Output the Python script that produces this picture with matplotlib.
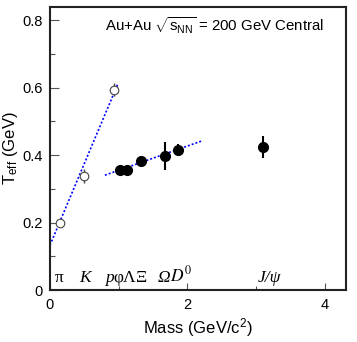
import numpy as np
import matplotlib
matplotlib.use('Agg')
import matplotlib.pyplot as plt
from matplotlib.ticker import MultipleLocator

plt.rcParams['font.family'] = ['Liberation Sans', 'DejaVu Sans']
plt.rcParams['mathtext.fontset'] = 'custom'
plt.rcParams['mathtext.rm'] = 'Liberation Sans'
plt.rcParams['mathtext.it'] = 'Liberation Sans:italic'
plt.rcParams['mathtext.sf'] = 'Liberation Sans'

# data: pi, K, p (open) and phi, Lambda, Xi, Omega, D0, J/psi (filled)
mass_open = [0.140, 0.494, 0.938]
teff_open = [0.198, 0.338, 0.594]
err_open = [0.008, 0.022, 0.019]

mass_fill = [1.019, 1.116, 1.321, 1.672, 1.865, 3.097]
teff_fill = [0.357, 0.357, 0.383, 0.397, 0.415, 0.425]
err_fill = [0.008, 0.008, 0.008, 0.042, 0.017, 0.033]

# linear fits T = T0 + k*m
fit1 = (0.133, 0.484, 0.0, 0.99)
fit2 = (0.283, 0.072, 0.80, 2.21)

part_names = ['π', 'K', 'p', 'φ', 'Λ', 'Ξ', 'Ω', r'$D^0$', 'J/ψ']
part_style = ['normal', 'italic', 'italic', 'normal', 'normal', 'normal', 'italic', 'italic', 'italic']
part_x = [0.14, 0.51, 0.87, 0.99, 1.16, 1.33, 1.66, 1.91, 3.2]

fig = plt.figure(figsize=(3.57, 3.42), dpi=100)
ax = fig.add_axes([0.140, 0.152, 0.829, 0.828])

for t0, k, x0, x1 in (fit1, fit2):
    xx = np.linspace(x0, x1, 50)
    ax.plot(xx, t0 + k * xx, color='blue', ls=(0, (1.2, 1.2)), lw=1.2, zorder=1)

ax.errorbar(mass_open, teff_open, yerr=err_open, fmt='o', ms=6.2, mfc='white',
            mec='#444444', mew=0.8, ecolor='#444444', elinewidth=1.0, capsize=0, zorder=3)
ax.errorbar(mass_fill, teff_fill, yerr=err_fill, fmt='o', ms=7, color='black',
            elinewidth=1.5, capsize=0, zorder=3)

for name, st, x in zip(part_names, part_style, part_x):
    ax.text(x, 0.025, name, ha='center', va='baseline', fontsize=12.5,
            family='Liberation Serif', style=st, math_fontfamily='stix')

ax.text(0.186, 0.915, r'Au+Au $\sqrt{\mathrm{s}_{\mathrm{NN}}}$ = 200 GeV Central',
        transform=ax.transAxes, fontsize=10.8, va='baseline')

ax.set_xlim(0, 4.31)
ax.set_ylim(0, 0.84)
ax.set_xticks([0, 2, 4])
ax.set_xticklabels(['0', '2', '4'])
ax.xaxis.set_minor_locator(MultipleLocator(1))
ax.set_yticks([0, 0.2, 0.4, 0.6, 0.8])
ax.set_yticklabels(['0', '0.2', '0.4', '0.6', '0.8'])
ax.yaxis.set_minor_locator(MultipleLocator(0.1))

ax.tick_params(axis='both', which='both', direction='in', color='#555555', width=0.8,
               labelsize=10.5)
ax.tick_params(axis='y', which='major', length=6.5, pad=5)
ax.tick_params(axis='y', which='minor', length=3.5)
ax.tick_params(axis='x', which='major', length=5, pad=6)
ax.tick_params(axis='x', which='minor', length=3)
for sp in ax.spines.values():
    sp.set_linewidth(1.5)
    sp.set_color('#222222')

ax.set_xlabel('Mass (GeV/c$^2$)', fontsize=12, labelpad=3)
ax.set_ylabel(r'T$_{\mathrm{eff}}$ (GeV)', fontsize=12, labelpad=2)

fig.savefig('out.png', dpi=100)
